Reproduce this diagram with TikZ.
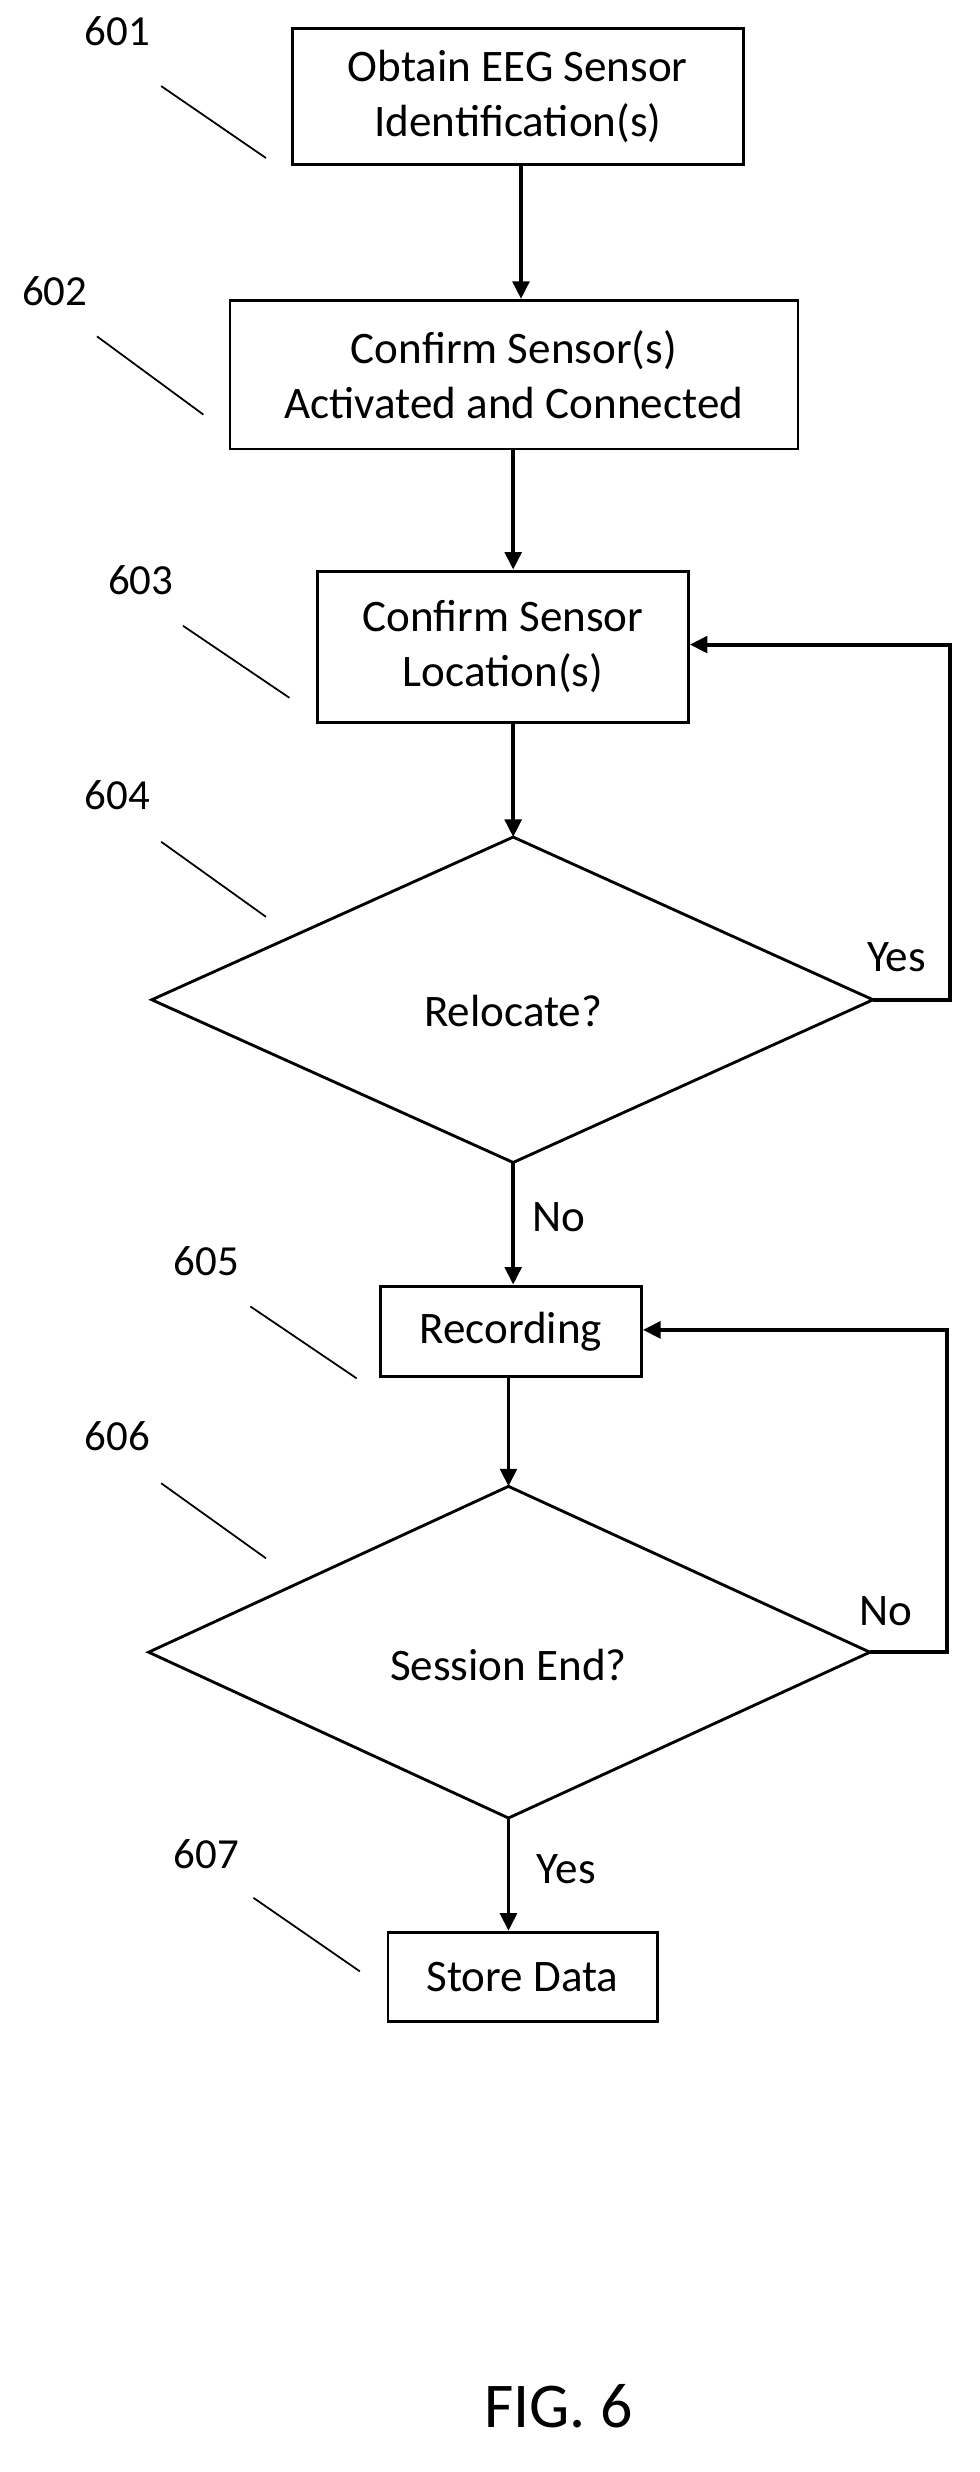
\documentclass[tikz,border=0pt]{standalone}
\usepackage{fontspec}
\setmainfont{Carlito}
\usetikzlibrary{arrows.meta,shapes.geometric}
\begin{document}
\begin{tikzpicture}[x=0.5mm,y=-0.5mm,
  every node/.style={font=\fontsize{41}{50}\selectfont},
  box/.style={draw,line width=2.6pt,align=center,inner sep=0pt},
  arr/.style={line width=3.6pt,-{Triangle[length=16pt,width=15pt]}},
  lead/.style={line width=1.6pt},
  num/.style={font=\fontsize{39}{46}\selectfont}]
\useasboundingbox (0,0) rectangle (626,1580);
\node[box,minimum width=144mm,minimum height=43.5mm] (b1) at (331,61.5) {Obtain EEG Sensor\\Identification(s)};
\node[box,minimum width=181.5mm,minimum height=47.5mm] (b2) at (328.5,239.5) {Confirm Sensor(s)\\Activated and Connected};
\node[box,minimum width=118.5mm,minimum height=48.5mm] (b3) at (321.5,413.5) {Confirm Sensor\\Location(s)};
\node[box,minimum width=83.5mm,minimum height=29mm] (b5) at (326.5,851) {Recording};
\node[box,minimum width=86mm,minimum height=28.5mm] (b7) at (334,1263.5) {Store Data};
\coordinate (d4t) at (328,535); \coordinate (d4b) at (328,743);
\coordinate (d4l) at (97,639); \coordinate (d4r) at (558,639);
\draw[line width=2.6pt,line join=miter] (d4t)--(d4r)--(d4b)--(d4l)--cycle;
\node (d4) at (328,646) {Relocate?};
\coordinate (d6t) at (325,950); \coordinate (d6b) at (325,1162);
\coordinate (d6l) at (95,1056); \coordinate (d6r) at (556,1056);
\draw[line width=2.6pt] (d6t)--(d6r)--(d6b)--(d6l)--cycle;
\node (d6) at (325,1064) {Session End?};
\coordinate (a1) at (333,105);
\draw[arr] (a1)--(a1|-b2.north);
\coordinate (a2) at (328,287);
\draw[arr] (a2)--(a2|-b3.north);
\draw[arr] (d4t|-b3.south)--(d4t);
\draw[arr] (d4b)--(d4b|-b5.north);
\draw[arr] (d6t|-b5.south)--(d6t);
\draw[arr] (d6b)--(d6b|-b7.north);
\coordinate (c1) at (607,639); \coordinate (c2) at (607,412);
\draw[arr] (d4r)--(c1)--(c2)--(b3.east|-c2);
\coordinate (c3) at (605,1056); \coordinate (c4) at (605,850);
\draw[arr] (d6r)--(c3)--(c4)--(b5.east|-c4);
\node (yes1) at (573,612) {Yes};
\node (no1) at (357,778) {No};
\node (no2) at (566,1030) {No};
\node (yes2) at (362,1195) {Yes};
\node[num] (n1) at (75,20) {601}; \coordinate (e1a) at (103,55); \coordinate (e1b) at (170,101); \draw[lead] (e1a)--(e1b);
\node[num] (n2) at (35,186) {602}; \coordinate (e2a) at (62,215); \coordinate (e2b) at (130,265); \draw[lead] (e2a)--(e2b);
\node[num] (n3) at (90,371) {603}; \coordinate (e3a) at (117,400); \coordinate (e3b) at (185,446); \draw[lead] (e3a)--(e3b);
\node[num] (n4) at (75,508) {604}; \coordinate (e4a) at (103,538); \coordinate (e4b) at (170,586); \draw[lead] (e4a)--(e4b);
\node[num] (n5) at (132,806) {605}; \coordinate (e5a) at (160,835); \coordinate (e5b) at (228,881); \draw[lead] (e5a)--(e5b);
\node[num] (n6) at (75,918) {606}; \coordinate (e6a) at (103,948); \coordinate (e6b) at (170,996); \draw[lead] (e6a)--(e6b);
\node[num] (n7) at (132,1185) {607}; \coordinate (e7a) at (162,1213); \coordinate (e7b) at (230,1260); \draw[lead] (e7a)--(e7b);
\node[font=\fontsize{58}{68}\selectfont] (fig) at (357,1538) {FIG. 6};
\end{tikzpicture}
\end{document}
